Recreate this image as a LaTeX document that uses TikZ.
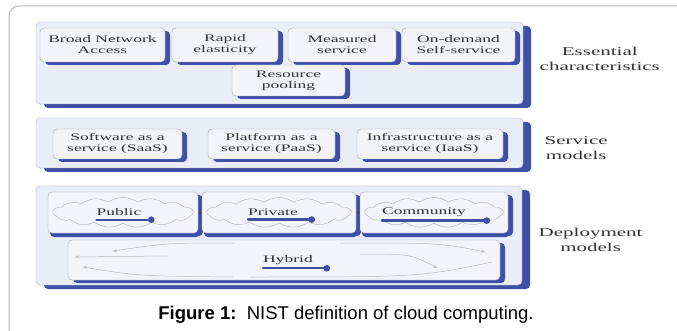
\documentclass[tikz,border=0pt]{standalone}
\usepackage{fontspec}
\newfontfamily\diafont[FakeStretch=1.75]{Liberation Serif}
\newfontfamily\capfont{Liberation Sans}
\usetikzlibrary{arrows.meta,positioning,shadows,shapes.symbols}
\definecolor{shblue}{HTML}{3F4FA8}
\definecolor{panelbg}{HTML}{E9EDF7}
\definecolor{boxbg}{HTML}{F2F4FA}

\begin{document}
\begin{tikzpicture}[x=1pt,y=-1pt,
  font=\diafont\fontsize{10}{11}\selectfont,
  panel/.style={draw=gray!60,fill=panelbg,rounded corners=4pt,inner sep=0pt,
    drop shadow={shadow xshift=8pt,shadow yshift=-4pt,fill=shblue,opacity=1}},
  box/.style={draw=gray!70,fill=boxbg,rounded corners=4pt,align=center,inner sep=2pt,text=black!80,
    drop shadow={shadow xshift=5pt,shadow yshift=-3pt,fill=shblue,opacity=1}},
  dbox/.style={box,drop shadow={shadow xshift=2pt,shadow yshift=-4pt,fill=shblue,opacity=1}},
  lbl/.style={align=center,font=\diafont\fontsize{12}{15}\selectfont,text=black!80},
  cl/.style={draw=gray!55,line width=0.5pt},
  cloudln/.style={cl,cloud,cloud puffs=15,cloud puff arc=70,aspect=4.5,inner sep=0pt},
  swoosh/.style={shblue,line width=2.4pt,line cap=round,-{Circle[length=6.5pt]}},
  tip/.style={-{Stealth[length=4pt]}}]

\useasboundingbox (0,0) rectangle (677,331);
\draw[gray!55,line width=1pt,rounded corners=10pt] (690,6) -- (9,6) -- (9,345);

% essential characteristics
\node[panel,minimum width=487pt,minimum height=82pt] (ess) at (279.5,63) {};
\node[box,minimum width=125pt,minimum height=34pt] (bna) at (102.5,45) {Broad Network\\Access};
\node[box,minimum width=106pt,minimum height=34pt] (rap) at (225,45) {Rapid\\elasticity};
\node[box,minimum width=108pt,minimum height=34pt] (meas) at (342,45) {Measured\\service};
\node[box,minimum width=113pt,minimum height=34pt] (ond) at (458.5,45) {On-demand\\Self-service};
\node[box,minimum width=113pt,minimum height=31pt] (pool) at (288.5,80.5) {Resource\\pooling};
\node[lbl,right=13pt of ess,yshift=4pt] (esslbl) {Essential\\characteristics};

% service models
\node[panel,minimum width=487pt,minimum height=50pt] (srv) at (279.5,143) {};
\node[box,minimum width=129pt,minimum height=30pt] (saas) at (117.5,144) {Software as a\\service (SaaS)};
\node[box,minimum width=127pt,minimum height=30pt] (paas) at (271.5,144) {Platform as a\\service (PaaS)};
\node[box,minimum width=146pt,minimum height=30pt] (iaas) at (430,144) {Infrastructure as a\\service (IaaS)};
\node[lbl,right=18pt of srv,yshift=-5pt] (srvlbl) {Service\\models};

% deployment models
\node[panel,minimum width=486pt,minimum height=99pt] (dep) at (279,235.5) {};
\node[dbox,minimum width=150pt,minimum height=41pt] (pub) at (123,212.5) {};
\node[dbox,minimum width=154pt,minimum height=41pt] (priv) at (279,212.5) {};
\node[dbox,minimum width=148pt,minimum height=41pt] (comm) at (434,212.5) {};
\node[box,minimum width=432pt,minimum height=40pt] (hyb) at (284,260) {};
\node[lbl,right=13pt of dep,yshift=-4.5pt] (deplbl) {Deployment\\models};

\node[cloudln,minimum width=140pt,minimum height=30pt] (pubc) at (pub) {};
\node[cloudln,minimum width=144pt,minimum height=30pt] (privc) at (priv) {};
\node[cloudln,minimum width=138pt,minimum height=30pt] (commc) at (comm) {};

\node[inner sep=0pt,text=black!80] (publ) at ([xshift=-4pt]pub.center) {Public};
\node[inner sep=0pt,text=black!80] (privl) at ([xshift=-6pt]priv.center) {Private};
\node[inner sep=0pt,text=black!80] (comml) at ([xshift=-10pt]comm.center) {Community};
\node[inner sep=0pt,text=black!80] (hybl) at ([xshift=4pt]hyb.center) {Hybrid};

\foreach \n/\d in {publ/13,privl/17,comml/24,hybl/17}
  \draw[swoosh] ([shift={(0,3.5)}]\n.south west) -- ([shift={(\d,3.5)}]\n.south east);

\fill[black!70] ([xshift=2pt]pub.east) circle (1.6pt);
\fill[black!70] ([xshift=2pt]priv.east) circle (1.6pt);

% hybrid links
\draw[cl,tip] ([shift={(167,-17)}]hyb.west) .. controls ([shift={(100,-17)}]hyb.west) .. ([shift={(45,-9)}]hyb.west);
\draw[cl,tip] ([shift={(100,-4)}]hyb.west) -- ([shift={(7,-3)}]hyb.west);
\draw[cl,tip] ([shift={(165,17)}]hyb.west) .. controls ([shift={(70,16)}]hyb.west) .. ([shift={(15,7)}]hyb.west);
\draw[cl,tip] ([shift={(-160,-17)}]hyb.east) .. controls ([shift={(-60,-17)}]hyb.east) .. ([shift={(-15,-8)}]hyb.east);
\draw[cl,tip] ([shift={(-140,-6)}]hyb.east) .. controls ([shift={(-90,-6)}]hyb.east) .. ([shift={(-63,8)}]hyb.east);
\draw[cl] ([shift={(-250,17)}]hyb.east) .. controls ([shift={(-80,17)}]hyb.east) .. ([shift={(-8,2)}]hyb.east);

% caption
\node[anchor=base,font=\capfont\fontsize{18.5}{22}\selectfont] (cap) at (346,319)
  {\textbf{Figure 1:}\ \ NIST definition of cloud computing.};
\end{tikzpicture}
\end{document}
